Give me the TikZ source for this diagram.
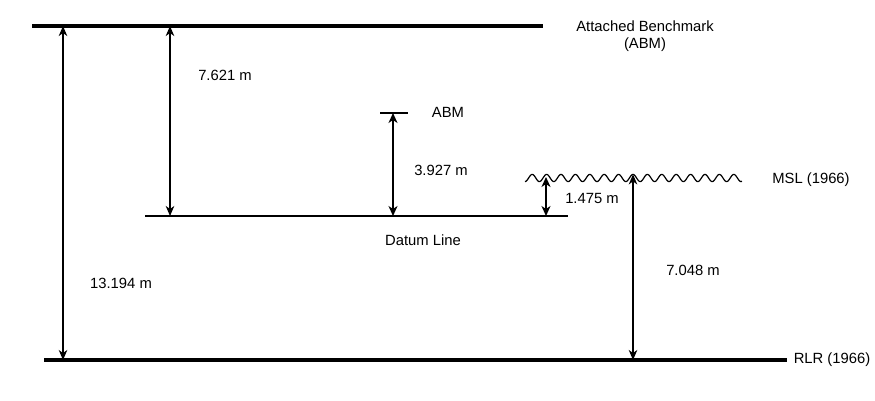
\documentclass[tikz,border=0pt]{standalone}
\usepackage{fontspec}
\setmainfont{Liberation Sans}
\usetikzlibrary{arrows.meta}
\begin{document}
\begin{tikzpicture}[x=1pt,y=-1pt,
  thickline/.style={line width=3.2pt},
  thinline/.style={line width=1.2pt},
  dim/.style={line width=1.2pt,{Stealth[length=10pt,width=8.5pt,inset=3pt]}-{Stealth[length=10pt,width=8.5pt,inset=3pt]}},
  dimb/.style={line width=1.6pt,{Stealth[length=10pt,width=9pt,inset=3pt]}-{Stealth[length=10pt,width=9pt,inset=3pt]}},
  lbl/.style={font=\fontsize{14.8}{17.5}\selectfont, inner sep=0pt, align=center}]
\useasboundingbox (0,0) rectangle (875,400);
% reference lines
\coordinate (topL) at (32,26);   \coordinate (topR) at (543,26);
\coordinate (rlrL) at (44,360);  \coordinate (rlrR) at (787,360);
\coordinate (datL) at (145,216); \coordinate (datR) at (568,216);
\coordinate (abmL) at (380,113); \coordinate (abmR) at (408,113);
\draw[thickline] (topL) -- (topR);
\draw[thickline] (rlrL) -- (rlrR);
\draw[thinline] (datL) -- (datR);
\draw[thinline] (abmL) -- (abmR);
% wavy MSL line
\draw[thinline, domain=525:742, samples=300, smooth] plot (\x, {178 - 3.6*cos(25*(\x-633))});
% dimension arrows
\coordinate (a1t) at (63,26);   \coordinate (a1b) at (63,360);
\coordinate (a2t) at (170,26);  \coordinate (a2b) at (170,216);
\coordinate (a3t) at (393,113); \coordinate (a3b) at (393,216);
\coordinate (a4t) at (546,177); \coordinate (a4b) at (546,216);
\coordinate (a5t) at (633,174.4); \coordinate (a5b) at (633,360);
\draw[dim] (a1t) -- (a1b);
\draw[dim] (a2t) -- (a2b);
\draw[dimb] (a3t) -- (a3b);
\draw[dimb] (a4t) -- (a4b);
\draw[dim] (a5t) -- (a5b);
% labels
\node[lbl] (abmtop) at (645,36) {Attached Benchmark\\(ABM)};
\node[lbl] (l7621) at (225,75) {7.621 m};
\node[lbl] (labm) at (448,112) {ABM};
\node[lbl] (l3927) at (441,170) {3.927 m};
\node[lbl] (lmsl) at (811,180) {MSL (1966)};
\node[lbl] (l1475) at (592,198) {1.475 m};
\node[lbl] (ldat) at (423,240) {Datum Line};
\node[lbl] (l13194) at (121,283) {13.194 m};
\node[lbl] (l7048) at (693,270) {7.048 m};
\node[lbl] (lrlr) at (832,360) {RLR (1966)};
\end{tikzpicture}
\end{document}
